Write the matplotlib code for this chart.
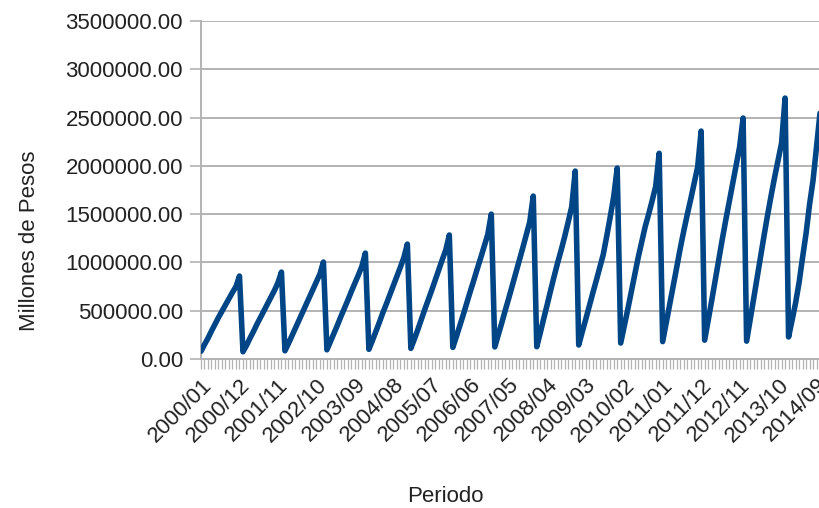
"""Sawtooth of monthly cumulative amounts, 2000/01 - 2014/10 (LibreOffice-style line chart)."""

import matplotlib
matplotlib.use("Agg")
import matplotlib.pyplot as plt
import matplotlib.transforms as mtransforms
import numpy as np
from matplotlib.ticker import FixedLocator, FuncFormatter

plt.rcParams["font.family"] = ["Liberation Sans", "DejaVu Sans"]

# Cumulative value within each year, pesos.
y2000 = [80000, 150000, 215000, 290000, 360000, 430000, 495000, 560000, 625000, 690000, 750000, 859000]
y2001 = [75000, 140000, 215000, 285000, 360000, 430000, 500000, 570000, 640000, 710000, 790000, 900000]
y2002 = [85000, 160000, 240000, 320000, 400000, 480000, 560000, 640000, 720000, 800000, 880000, 1004000]
y2003 = [95000, 180000, 265000, 350000, 440000, 525000, 610000, 700000, 785000, 870000, 960000, 1097000]
y2004 = [100000, 190000, 285000, 380000, 480000, 570000, 665000, 760000, 855000, 950000, 1050000, 1190000]
y2005 = [110000, 205000, 305000, 410000, 515000, 615000, 715000, 820000, 925000, 1030000, 1130000, 1284000]
y2006 = [120000, 230000, 345000, 460000, 580000, 700000, 815000, 935000, 1050000, 1170000, 1290000, 1500000]
y2007 = [125000, 250000, 375000, 505000, 630000, 760000, 890000, 1020000, 1150000, 1285000, 1420000, 1687000]
y2008 = [127000, 270000, 420000, 565000, 715000, 860000, 1000000, 1130000, 1270000, 1420000, 1577000, 1946000]
y2009 = [145000, 280000, 410000, 545000, 680000, 810000, 945000, 1080000, 1270000, 1470000, 1680000, 1977000]
y2010 = [165000, 335000, 510000, 690000, 870000, 1050000, 1210000, 1370000, 1500000, 1640000, 1787000, 2130000]
y2011 = [180000, 370000, 560000, 750000, 945000, 1140000, 1320000, 1490000, 1650000, 1820000, 1987000, 2360000]
y2012 = [195000, 395000, 600000, 810000, 1020000, 1230000, 1430000, 1620000, 1810000, 2000000, 2195000, 2495000]
y2013 = [185000, 400000, 620000, 840000, 1060000, 1280000, 1490000, 1690000, 1880000, 2060000, 2236000, 2702000]
y2014 = [228000, 400000, 580000, 790000, 1050000, 1300000, 1600000, 1850000, 2200000, 2550000]

years = list(range(2000, 2015))
series = [y2000, y2001, y2002, y2003, y2004, y2005, y2006, y2007,
          y2008, y2009, y2010, y2011, y2012, y2013, y2014]

periods = []
values = []
for yr, vals in zip(years, series):
    for m, v in enumerate(vals, start=1):
        periods.append(f"{yr}/{m:02d}")
        values.append(v)

LINE = "#004586"
GRID = "#b3b3b3"
TEXT = "#222222"

fig = plt.figure(figsize=(8.19, 5.08), dpi=100)
ax = fig.add_axes([201 / 819, 149 / 508, 618 / 819, 338 / 508])

x = np.arange(len(values))
ax.plot(x, values, color=LINE, linewidth=4.0, solid_joinstyle="round",
        solid_capstyle="round", zorder=3)

ax.set_ylim(0, 3500000)
ax.set_xlim(0, 176.7)
ax.set_yticks(np.arange(0, 3500001, 500000))
ax.yaxis.set_major_formatter(FuncFormatter(lambda v, _: f"{v:.2f}"))
ax.grid(axis="y", color=GRID, linewidth=1.4, zorder=0)

major = list(range(0, len(values), 11))
ax.xaxis.set_major_locator(FixedLocator(major))
ax.set_xticklabels([periods[i] for i in major], rotation=45,
                   ha="right", va="top", rotation_mode="anchor")
ax.xaxis.set_minor_locator(FixedLocator(list(range(len(values)))))

# nudge the slanted labels a little right/down, like the original
shift = mtransforms.ScaledTranslation(5 / 100, -4 / 100, fig.dpi_scale_trans)
for lbl in ax.get_xticklabels():
    lbl.set_transform(lbl.get_transform() + shift)

for side in ("top", "right"):
    ax.spines[side].set_visible(False)
for side in ("left", "bottom"):
    ax.spines[side].set_color(GRID)
    ax.spines[side].set_linewidth(1.4)

ax.tick_params(axis="y", length=8, width=1.2, color=GRID, labelsize=16,
               pad=5, labelcolor=TEXT)
ax.tick_params(axis="x", which="both", length=7, width=0.9, color=GRID,
               labelsize=16, pad=4, labelcolor=TEXT)

fig.text(445 / 819, 1 - 497 / 508, "Periodo", fontsize=16,
         ha="center", va="center", color=TEXT)
fig.text(30 / 819, 1 - 241 / 508, "Millones de Pesos", fontsize=16,
         rotation=90, ha="center", va="center", color=TEXT)

fig.savefig("out.png", dpi=100, facecolor="white")
